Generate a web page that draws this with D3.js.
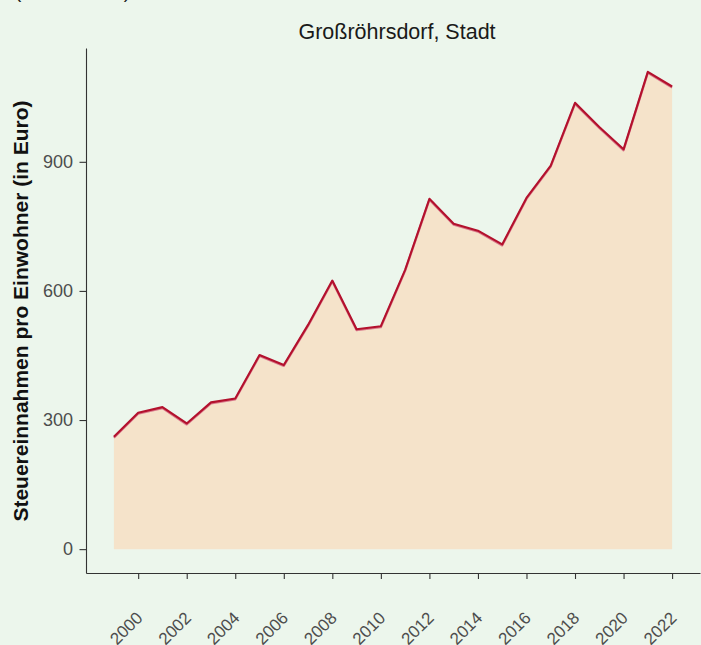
<!DOCTYPE html>
<html><head><meta charset="utf-8">
<script src="https://cdn.jsdelivr.net/npm/d3@7"></script>
<style>
html,body{margin:0;padding:0;background:#ecf6ec;}
svg{display:block;font-family:"Liberation Sans",Arial,sans-serif;}
</style></head><body>
<svg id="c" width="701" height="645"></svg>
<script>
const years = [1999,2000,2001,2002,2003,2004,2005,2006,2007,2008,2009,2010,2011,2012,2013,2014,2015,2016,2017,2018,2019,2020,2021,2022];
const values = [261,317,330,292,341,350,451,428,521,624,511,518,649,814,756,740,708,816,891,1037,981,929,1109,1075];
const xTicks = [2000,2002,2004,2006,2008,2010,2012,2014,2016,2018,2020,2022];
const yTicks = [0,300,600,900];
const title = "Großröhrsdorf, Stadt";
const yLabel = "Steuereinnahmen pro Einwohner (in Euro)";
const topNote = "(Steuereinnahmen)";

(function(){
const svg = d3.select("#c");
const W = 701, H = 645;
svg.append("rect").attr("width",W).attr("height",H).attr("fill","#ecf6ec");

const mLeft = 86, mRight = 700, mTop = 48, mBottom = 573;
const xmin = 1999, xmax = 2022, xpad = (xmax-xmin)*0.05;
const ymax = 1109, ypad = ymax*0.05;
const x = d3.scaleLinear().domain([xmin-xpad, xmax+xpad]).range([mLeft,mRight]);
const y = d3.scaleLinear().domain([-ypad, ymax+ypad]).range([mBottom, mTop]);

const data = years.map((yr,i)=>({yr, v: values[i]}));

svg.append("text").attr("x",15).attr("y",-2).attr("font-size",19).attr("fill","#1a1a1a")
  .attr("textLength",115).text(topNote);

svg.append("path").datum(data)
  .attr("d", d3.area().x(d=>x(d.yr)).y0(y(0)).y1(d=>y(d.v)))
  .attr("fill","#f5e3ca");
svg.append("path").datum(data)
  .attr("d", d3.line().x(d=>x(d.yr)).y(d=>y(d.v)))
  .attr("fill","none").attr("stroke","#d9788a").attr("stroke-width",2.2)
  .attr("transform","translate(0,1)").attr("stroke-linejoin","round");
svg.append("path").datum(data)
  .attr("d", d3.line().x(d=>x(d.yr)).y(d=>y(d.v)))
  .attr("fill","none").attr("stroke","#b3112d").attr("stroke-width",2.1)
  .attr("stroke-linejoin","round");

const xa = svg.append("g").attr("transform",`translate(0,${mBottom})`)
  .call(d3.axisBottom(x).tickValues(xTicks).tickSize(6).tickSizeOuter(0).tickFormat(d3.format("d")));
xa.select(".domain").attr("stroke","#333").attr("stroke-width",1.1);
xa.selectAll(".tick line").attr("stroke","#333").attr("stroke-width",1.1);
xa.selectAll(".tick text").attr("font-size",17).attr("fill","#4d4d4d")
  .attr("text-anchor","end").attr("dy",null).attr("y",null)
  .attr("transform","translate(5,46) rotate(-45)");

const ya = svg.append("g").attr("transform",`translate(${mLeft},0)`)
  .call(d3.axisLeft(y).tickValues(yTicks).tickSize(6.5).tickSizeOuter(0));
ya.select(".domain").attr("stroke","#333").attr("stroke-width",1.1);
ya.selectAll(".tick line").attr("stroke","#333").attr("stroke-width",1.1);
ya.selectAll(".tick text").attr("font-size",18).attr("fill","#4d4d4d").attr("x",-13);

svg.append("text").attr("x",(mLeft+mRight)/2+4).attr("y",39).attr("text-anchor","middle")
  .attr("font-size",21.5).attr("fill","#1a1a1a").text(title);

svg.append("text").attr("transform","translate(28,311) rotate(-90)")
  .attr("text-anchor","middle").attr("font-size",21).attr("font-weight","bold")
  .attr("fill","#111").text(yLabel);
})();
</script>
</body></html>
